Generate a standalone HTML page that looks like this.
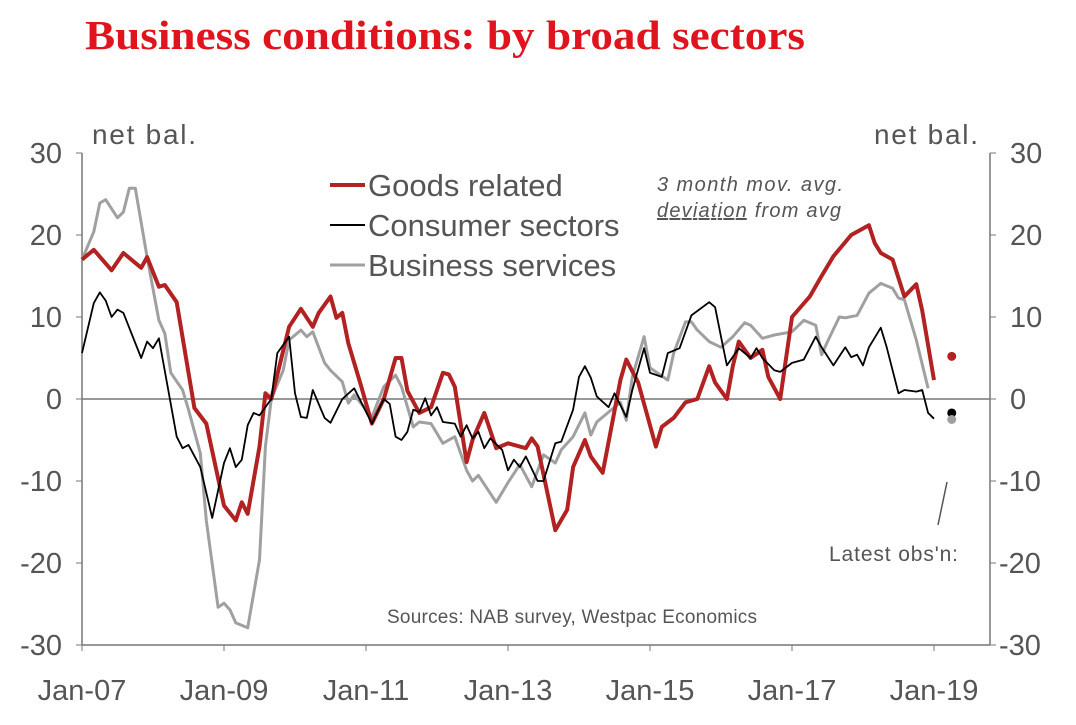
<!DOCTYPE html>
<html><head><meta charset="utf-8"><style>
body{margin:0;background:#fff;width:1076px;height:720px;overflow:hidden}
svg text{font-family:"Liberation Sans",sans-serif}
</style></head><body>
<svg id="chart" width="1076" height="720">
<text x="85" y="49" font-weight="bold" font-size="41" fill="#e0141e" textLength="720" lengthAdjust="spacingAndGlyphs" style="font-family:'Liberation Serif',serif">Business conditions: by broad sectors</text>
<g id="axes"></g>
<g id="series"></g>
<g>
<line x1="330" y1="185" x2="365" y2="185" stroke="#b22222" stroke-width="4"/>
<text x="368" y="196" font-size="31" fill="#555">Goods related</text>
<line x1="330" y1="225" x2="365" y2="225" stroke="#000" stroke-width="2"/>
<text x="368" y="236" font-size="31" fill="#555">Consumer sectors</text>
<line x1="330" y1="265" x2="365" y2="265" stroke="#a0a0a0" stroke-width="3"/>
<text x="368" y="276" font-size="31" fill="#555">Business services</text>
</g>
<text x="657" y="191" font-size="20" font-style="italic" fill="#555" textLength="186">3 month mov. avg.</text>
<text x="657" y="217" font-size="20" font-style="italic" fill="#555" textLength="184"><tspan text-decoration="underline">deviation</tspan> from avg</text>
<text x="92" y="144" font-size="28" fill="#555" textLength="104">net bal.</text>
<text x="874" y="144" font-size="28" fill="#555" textLength="104">net bal.</text>
<text x="829" y="561" font-size="21" fill="#555" textLength="129">Latest obs'n:</text>
<line x1="947" y1="482" x2="938" y2="525" stroke="#555" stroke-width="1.5"/>
<text x="387" y="623" font-size="19" fill="#555" textLength="370">Sources: NAB survey, Westpac Economics</text>
</svg>
<script>
const yTicks=[30,20,10,0,-10,-20,-30];
const xTickLabels=["Jan-07","Jan-09","Jan-11","Jan-13","Jan-15","Jan-17","Jan-19"];
const xTickMonths=[0,24,48,72,96,120,144];
const goodsMonths=[0,2,5,7,10,11,13,14,16,19,21,24,26,27,28,30,31,32,35,37,39,40,42,43,44,45,47,49,51,53,54,55,57,59,61,62,63,65,66,68,70,72,75,76,77,80,82,83,85,86,88,91,92,94,97,98,100,102,104,106,107,109,110,111,113,115,116,118,120,123,125,127,130,133,134,135,137,139,141,142,144];
const goodsValues=[17,18.2,15.7,17.8,16,17.3,13.7,13.9,11.8,-1.1,-3,-13,-14.8,-12.6,-14,-5.8,0.7,0,8.8,11,8.8,10.5,12.5,9.9,10.5,6.8,2,-3,0,5,5,1,-1.7,-1,3.2,3,1.5,-7.7,-5,-1.7,-6,-5.4,-6,-4.8,-5.8,-16,-13.5,-8.3,-5,-7,-9,2.3,4.8,2,-5.8,-3.4,-2.3,-0.4,0,4,2,0,4,7,5,6,2.7,0,10,12.5,15,17.4,20,21.2,19,17.8,17,12.5,14,10.8,2.3];
const consMonths=[0,2,3,4,5,6,7,10,11,12,13,16,17,18,20,22,24,25,26,27,28,29,30,32,33,35,36,37,38,39,41,42,44,46,49,51,52,53,54,55,56,57,58,59,60,61,63,64,65,66,67,68,69,71,72,73,74,75,77,78,80,81,83,84,85,86,87,89,90,92,93,95,96,98,99,101,103,106,107,108,109,111,113,114,115,117,118,120,122,124,125,127,129,130,131,132,133,135,136,138,139,141,142,143,144];
const consValues=[5.6,11.7,13,12,10,10.9,10.5,5,7,6.2,7.4,-4.6,-6,-5.6,-8.3,-14.5,-7.8,-6,-8.3,-7.4,-3.2,-1.7,-2,0,5.6,7.6,0.7,-2.2,-2.3,1.1,-2.3,-2.9,0,1.3,-3,0,-0.6,-4.6,-5,-4,-1.3,-1.6,0.1,-2,-1,-2.8,-3,-4.6,-3.2,-4.8,-4,-6,-4.8,-6.2,-8.7,-7.4,-8.3,-7,-10,-10,-5.4,-5.2,-1.3,2.7,4,2.6,0.3,-1,0.7,-2.2,1.1,6.2,3.2,2.7,5.6,6.2,10.2,11.8,11.2,7.6,4.1,6.2,5,6.2,5,3.5,3.3,4.4,4.8,7.6,6.3,4.1,6.3,5.1,5.4,4.1,6.3,8.7,6.3,0.7,1.1,0.9,1.1,-1.7,-2.4];
const busMonths=[0,2,3,4,6,7,8,9,11,13,14,15,17,18,20,21,23,24,25,26,28,30,31,32,34,35,37,38,39,41,42,44,45,46,49,51,53,54,56,57,59,61,63,65,66,67,70,72,74,76,78,80,81,83,85,86,87,89,91,92,93,95,96,99,100,102,103,104,106,108,110,112,113,115,117,120,122,124,125,126,128,129,131,133,135,137,138,139,141,143];
const busValues=[17,20.4,23.9,24.3,22.1,22.8,25.7,25.7,17.3,9.6,8,3.2,1.1,-1.3,-6.6,-14.8,-25.4,-24.9,-25.7,-27.3,-27.9,-19.6,-5.8,0,3.5,7.2,8.4,7.6,8.2,4.4,3.5,2.1,-0.5,0.5,-2.2,1.5,2.9,1.5,-3.4,-2.8,-3,-5.4,-4.6,-8.7,-10,-9.3,-12.6,-10.2,-8,-10.7,-6.8,-7.8,-6.2,-4.6,-1.7,-4.4,-2.8,-1.6,-0.4,-2.6,2.7,7.6,3.8,2.3,5.6,9.4,9.4,8.4,7,6.3,7.6,9.3,9,7.4,7.8,8.2,9.6,9,5.4,7,10,9.9,10.2,12.9,14.1,13.5,12.3,12.1,7.2,1.3];
const latestValues=[5.2,-1.7,-2.5];
const latestMonth=147;

const NS="http://www.w3.org/2000/svg";
const X0=82,X1=990,PX=71/12;
const yTop=153,yBot=645;
function xs(m){return X0+m*PX;}
function ys(v){return yTop+(30-v)*(yBot-yTop)/60;}
function mk(tag,attrs,parent){const e=document.createElementNS(NS,tag);for(const k in attrs)e.setAttribute(k,attrs[k]);parent.appendChild(e);return e;}
const ax=document.getElementById('axes'),sr=document.getElementById('series');
let e;
e=mk('line',{x1:X0,y1:yTop,x2:X0,y2:yBot,stroke:'#777','stroke-width':1.5},ax);


e=mk('line',{x1:X1,y1:yTop,x2:X1,y2:yBot,stroke:'#777','stroke-width':1.5},ax);


e=mk('line',{x1:X0,y1:yBot,x2:X1,y2:yBot,stroke:'#777','stroke-width':1.5},ax);


e=mk('line',{x1:X0,y1:ys(0),x2:X1,y2:ys(0),stroke:'#777','stroke-width':1.5},ax);


yTicks.forEach(v=>{
  const y=ys(v);
  mk('line',{x1:X0-6,y1:y,x2:X0,y2:y,stroke:'#777'},ax);
  mk('line',{x1:X1,y1:y,x2:X1+6,y2:y,stroke:'#777'},ax);
  e=mk('text',{x:62,y:y+10,'font-size':29,fill:'#555','text-anchor':'end'},ax);
  e.textContent=v;
  
  
  e=mk('text',{x:v<0?999:1010,y:y+10,'font-size':29,fill:'#555'},ax);
  e.textContent=v;
  
  
});
xTickMonths.forEach((m,i)=>{
  const x=xs(m);
  mk('line',{x1:x,y1:yBot,x2:x,y2:yBot+6,stroke:'#777'},ax);
  e=mk('text',{x:x,y:700,'font-size':29,fill:'#555','text-anchor':'middle'},ax);
  e.textContent=xTickLabels[i];
  
  
});
function line(ms,vs,color,w,name){
  const d=ms.map((m,i)=>(i?'L':'M')+xs(m).toFixed(1)+','+ys(vs[i]).toFixed(1)).join('');
  const p=mk('path',{d:d,fill:'none',stroke:color,'stroke-width':w,'stroke-linejoin':'round'},sr);
  
  
}
line(busMonths,busValues,'#a0a0a0',3,'business-services-line');
line(goodsMonths,goodsValues,'#b22222',4,'goods-related-line');
line(consMonths,consValues,'#000',1.8,'consumer-sectors-line');
const dotColors=['#b22222','#000','#a0a0a0'];
const dotNames=['latest-goods-dot','latest-consumer-dot','latest-business-dot'];
latestValues.forEach((v,i)=>{
  const c=mk('circle',{cx:xs(latestMonth),cy:ys(v),r:4.5,fill:dotColors[i]},sr);
  
  
});
</script>
</body></html>
